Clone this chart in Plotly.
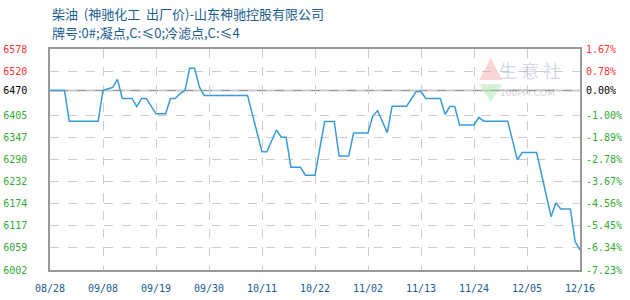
import plotly.graph_objects as go

# ---- data ----
dates = ["2017-08-28", "2017-08-31", "2017-09-01", "2017-09-07", "2017-09-08", "2017-09-09",
         "2017-09-10", "2017-09-11", "2017-09-12", "2017-09-14", "2017-09-15", "2017-09-16",
         "2017-09-17", "2017-09-19", "2017-09-21", "2017-09-22", "2017-09-23", "2017-09-24",
         "2017-09-25", "2017-09-26", "2017-09-27", "2017-09-28", "2017-09-29", "2017-10-08",
         "2017-10-11", "2017-10-12", "2017-10-14", "2017-10-15", "2017-10-16", "2017-10-17",
         "2017-10-19", "2017-10-20", "2017-10-22", "2017-10-24", "2017-10-26", "2017-10-27",
         "2017-10-29", "2017-10-30", "2017-11-02", "2017-11-03", "2017-11-04", "2017-11-06",
         "2017-11-07", "2017-11-10", "2017-11-12", "2017-11-13", "2017-11-14", "2017-11-17",
         "2017-11-18", "2017-11-19", "2017-11-20", "2017-11-21", "2017-11-24", "2017-11-25",
         "2017-11-26", "2017-12-01", "2017-12-03", "2017-12-04", "2017-12-07", "2017-12-10",
         "2017-12-11", "2017-12-12", "2017-12-14", "2017-12-15", "2017-12-16"]
prices = [6470, 6470, 6390, 6390, 6470, 6474,
          6478, 6499, 6449, 6449, 6428, 6449,
          6449, 6409, 6409, 6449, 6449, 6462,
          6470, 6528, 6528, 6479, 6457, 6457,
          6310, 6310, 6367, 6348, 6348, 6270,
          6270, 6249, 6249, 6389, 6389, 6299,
          6299, 6359, 6359, 6404, 6417, 6360,
          6429, 6429, 6467, 6467, 6449, 6449,
          6408, 6428, 6428, 6380, 6380, 6400,
          6390, 6390, 6289, 6308, 6308, 6141,
          6177, 6161, 6161, 6076, 6054]

base_price = 6470
y_min, y_max = 6002, 6578

y_tickvals = [6002, 6059.6, 6117.2, 6174.8, 6232.4, 6290, 6347.6, 6405.2, 6470, 6520.4, 6578]
y_ticklabels = ["6002", "6059", "6117", "6174", "6232", "6290", "6347", "6405", "6470", "6520", "6578"]
pct_ticklabels = ["-7.23%", "-6.34%", "-5.45%", "-4.56%", "-3.67%", "-2.78%", "-1.89%", "-1.00%",
                  "0.00%", "0.78%", "1.67%"]

x_tickvals = ["2017-08-28", "2017-09-08", "2017-09-19", "2017-09-30", "2017-10-11", "2017-10-22",
              "2017-11-02", "2017-11-13", "2017-11-24", "2017-12-05", "2017-12-16"]
x_ticklabels = ["08/28", "09/08", "09/19", "09/30", "10/11", "10/22", "11/02", "11/13", "11/24",
                "12/05", "12/16"]

title1 = "柴油 &nbsp;(神驰化工 &nbsp;出厂价)-山东神驰控股有限公司"
title2 = "牌号:0#;凝点,C:≤0;冷滤点,C:≤4"

# ---- styles ----
RED = "#ff3333"
GREEN = "#33aa33"
BLACK = "#000000"
BLUE_TXT = "#1a5c8f"


def colored(labels, vals):
    out = []
    for lab, v in zip(labels, vals):
        c = RED if v > base_price + 1 else (BLACK if abs(v - base_price) < 1 else GREEN)
        out.append(f'<span style="color:{c}">{lab}</span>')
    return out


fig = go.Figure()
fig.add_trace(go.Scatter(x=dates, y=prices, mode="lines",
                         line=dict(color="#3a9ad9", width=1.5), hoverinfo="skip",
                         showlegend=False))
fig.add_trace(go.Scatter(x=dates, y=prices, mode="lines", yaxis="y2",
                         line=dict(color="rgba(0,0,0,0)", width=0), hoverinfo="skip",
                         showlegend=False))

mono = "DejaVu Sans Mono"

fig.update_layout(
    width=630, height=300,
    margin=dict(l=50, r=50, t=49, b=30),
    paper_bgcolor="white", plot_bgcolor="white",
    xaxis=dict(type="date", range=[x_tickvals[0], x_tickvals[-1]], automargin=False,
               tickvals=x_tickvals, ticktext=x_ticklabels,
               tickfont=dict(family=mono, size=10, color=BLUE_TXT),
               ticks="outside", ticklen=8, tickcolor="rgba(0,0,0,0)",
               showgrid=True, gridcolor="#cccccc", griddash="dash", gridwidth=1,
               showline=True, linecolor="#999999", linewidth=1.5, mirror=True,
               zeroline=False),
    yaxis=dict(range=[y_min, y_max], tickvals=y_tickvals, automargin=False,
               ticktext=colored(y_ticklabels, y_tickvals),
               tickfont=dict(family=mono, size=10),
               ticks="outside", ticklen=19, tickcolor="rgba(0,0,0,0)",
               showgrid=True, gridcolor="#cccccc", griddash="dash", gridwidth=1,
               showline=True, linecolor="#999999", linewidth=1.5, mirror=True,
               zeroline=False),
    yaxis2=dict(range=[y_min, y_max], overlaying="y", side="right", tickvals=y_tickvals,
                automargin=False,
                ticktext=colored(pct_ticklabels, y_tickvals),
                tickfont=dict(family=mono, size=10),
                ticks="outside", ticklen=3, tickcolor="rgba(0,0,0,0)",
                showgrid=False, zeroline=False, showline=False),
    showlegend=False,
)

# base (0.00%) line, under the price line
fig.add_shape(type="line", xref="paper", x0=0, x1=1, yref="y", y0=base_price, y1=base_price,
              line=dict(color="#999999", width=1.5), layer="below")

# titles
fig.add_annotation(text=title1, xref="paper", yref="paper", x=0, y=1.16, xanchor="left",
                   yanchor="middle", showarrow=False,
                   font=dict(family="Noto Sans CJK SC", size=13, color=BLUE_TXT))
fig.add_annotation(text=title2, xref="paper", yref="paper", x=0, y=1.073, xanchor="left",
                   yanchor="middle", showarrow=False,
                   font=dict(family="Noto Sans CJK SC", size=13, color=BLUE_TXT))

# watermark
fig.add_annotation(text="生 意 社", xref="paper", yref="paper", x=0.905, y=0.905, xanchor="center",
                   yanchor="middle", showarrow=False,
                   font=dict(family="Noto Sans CJK SC", size=18, color="rgba(160,168,205,0.45)"))
fig.add_annotation(text="100PPI.COM", xref="paper", yref="paper", x=0.9, y=0.8, xanchor="center",
                   yanchor="middle", showarrow=False,
                   font=dict(family="DejaVu Sans", size=9, color="rgba(150,150,150,0.45)"))
fig.add_shape(type="path", xref="paper", yref="paper",
              path="M 0.81 0.86 L 0.8315 0.96 L 0.853 0.86 Z",
              fillcolor="rgba(240,150,150,0.4)", line=dict(width=0))
fig.add_shape(type="path", xref="paper", yref="paper",
              path="M 0.81 0.84 L 0.8315 0.76 L 0.853 0.84 Z",
              fillcolor="rgba(150,220,150,0.4)", line=dict(width=0))

fig.write_html("out.html")
